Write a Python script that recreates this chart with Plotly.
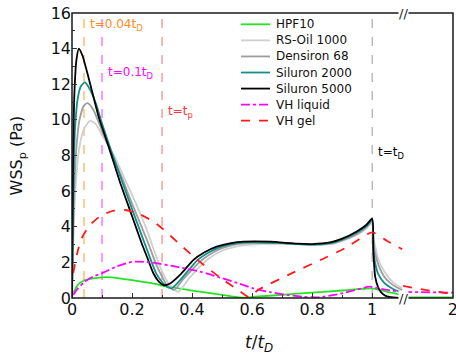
import plotly.graph_objects as go

# ---------------- data ----------------
t_blk = [0, 0.003, 0.008, 0.015, 0.023, 0.035, 0.05, 0.07, 0.09, 0.124, 0.16, 0.2, 0.232, 0.25, 0.271, 0.29, 0.305, 0.325, 0.36, 0.404, 0.44, 0.482, 0.53, 0.571, 0.66, 0.75, 0.8, 0.86, 0.9, 0.95, 0.98, 1.0, 1.004, 1.01, 1.02, 1.03, 1.045, 1.07, 1.1]
v_blk = [0, 7.0, 11.5, 13.4, 14.0, 13.6, 12.7, 11.4, 10.1, 8.4, 6.5, 4.6, 3.07, 2.3, 1.39, 0.9, 0.72, 0.8, 1.3, 2.13, 2.55, 2.88, 3.08, 3.16, 3.16, 3.05, 3.03, 3.12, 3.33, 3.75, 4.1, 4.45, 2.6, 1.2, 0.6, 0.32, 0.12, 0.03, 0.0]

t_teal = [0, 0.004, 0.01, 0.02, 0.03, 0.043, 0.06, 0.08, 0.1, 0.132, 0.17, 0.2, 0.25, 0.28, 0.3, 0.315, 0.332, 0.36, 0.418, 0.46, 0.5, 0.55, 0.6, 0.7, 0.8, 0.86, 0.9, 0.95, 0.98, 1.0, 1.004, 1.01, 1.02, 1.04, 1.06, 1.08, 1.1]
v_teal = [0, 5.5, 9.5, 11.3, 11.9, 12.1, 11.7, 10.9, 9.8, 8.2, 6.4, 5.0, 2.7, 1.4, 0.9, 0.65, 0.54, 1.0, 2.13, 2.6, 2.9, 3.08, 3.14, 3.08, 3.0, 3.08, 3.28, 3.68, 4.02, 4.38, 2.6, 1.95, 1.35, 0.85, 0.6, 0.42, 0.3]

t_dgray = [0, 0.004, 0.012, 0.025, 0.04, 0.052, 0.07, 0.1, 0.135, 0.17, 0.2, 0.25, 0.28, 0.3, 0.315, 0.34, 0.37, 0.433, 0.47, 0.5, 0.55, 0.6, 0.7, 0.8, 0.86, 0.9, 0.95, 0.98, 1.0, 1.004, 1.01, 1.02, 1.04, 1.06, 1.08, 1.1]
v_dgray = [0, 4.0, 7.8, 10.0, 10.8, 10.94, 10.6, 9.4, 8.0, 6.6, 5.3, 3.25, 1.9, 1.2, 0.75, 0.45, 1.05, 2.13, 2.55, 2.8, 3.02, 3.08, 3.07, 3.0, 3.05, 3.24, 3.6, 3.95, 4.3, 3.1, 2.5, 1.9, 1.2, 0.85, 0.62, 0.45]

t_lgray = [0, 0.004, 0.012, 0.025, 0.04, 0.06, 0.08, 0.1, 0.14, 0.17, 0.2, 0.25, 0.277, 0.3, 0.325, 0.354, 0.39, 0.449, 0.5, 0.55, 0.6, 0.7, 0.8, 0.86, 0.9, 0.95, 0.98, 1.0, 1.004, 1.01, 1.02, 1.04, 1.06, 1.08, 1.1]
v_lgray = [0, 3.0, 6.3, 8.5, 9.5, 9.94, 9.75, 9.15, 8.0, 6.9, 5.8, 3.8, 2.5, 1.5, 0.75, 0.35, 1.1, 2.13, 2.65, 2.9, 3.0, 3.05, 2.98, 3.03, 3.2, 3.55, 3.9, 4.25, 3.4, 2.9, 2.2, 1.5, 1.05, 0.75, 0.55]

t_green = [0.005, 0.02, 0.04, 0.07, 0.1, 0.13, 0.2, 0.277, 0.304, 0.4, 0.5, 0.57, 0.61, 0.7, 0.8, 0.9, 1.0, 1.05, 1.1]
v_green = [0.3, 0.75, 0.98, 1.1, 1.16, 1.16, 1.0, 0.79, 0.68, 0.42, 0.18, 0.02, 0.07, 0.18, 0.3, 0.42, 0.54, 0.35, 0.18]

t_mag = [0.004, 0.02, 0.043, 0.07, 0.1, 0.15, 0.2, 0.25, 0.29, 0.35, 0.427, 0.493, 0.55, 0.604, 0.66, 0.716, 0.77, 0.82, 0.9, 0.99, 1.0, 1.05, 1.1]
v_mag = [0.17, 0.55, 0.92, 1.2, 1.39, 1.78, 2.03, 2.02, 1.93, 1.75, 1.48, 1.15, 0.85, 0.54, 0.33, 0.17, 0.07, 0.04, 0.26, 0.64, 0.62, 0.45, 0.35]

t_red = [0.004, 0.02, 0.032, 0.06, 0.1, 0.14, 0.177, 0.22, 0.271, 0.304, 0.36, 0.416, 0.504, 0.55, 0.59, 0.62, 0.74, 0.83, 0.91, 1.0, 1.05, 1.1]
v_red = [1.4, 2.7, 3.35, 4.1, 4.66, 4.9, 4.94, 4.75, 4.29, 3.86, 3.0, 2.17, 1.01, 0.5, 0.06, 0.45, 1.45, 2.15, 2.8, 3.68, 3.2, 2.74]

# values after the axis break (t from 1.1 to 2)
t_tail = [1.1, 1.5, 2.0]
v_green_tail = [0.03, 0.03, 0.03]
v_mag_tail = [0.34, 0.32, 0.3]
v_red_tail = [0.68, 0.45, 0.22]

names = ["HPF10", "RS-Oil 1000", "Densiron 68", "Siluron 2000", "Siluron 5000", "VH liquid", "VH gel"]
colors = ["#22E522", "#CFCFCF", "#9E9E9E", "#148F8F", "#000000", "#FF00FF", "#FF1A1A"]
dashes = ["solid", "solid", "solid", "solid", "solid", "dashdot", "dash"]

vline_t = [0.04, 0.1, 0.3, 1.0]
vline_col = ["#FF9A2E", "#FF33FF", "#F07070", "#999999"]
vline_lbl = ["t=0.04t<sub>D</sub>", "t=0.1t<sub>D</sub>", "t=t<sub>p</sub>", "t=t<sub>D</sub>"]
vline_lbl_col = ["#FF8C1A", "#FF00FF", "#FF3333", "#000000"]
vline_lbl_y = [15.3, 12.64, 10.45, 8.15]

x_ticks = [0, 0.2, 0.4, 0.6, 0.8, 1]
x_ticktext = ["0", "0.2", "0.4", "0.6", "0.8", "1"]
y_ticks = [0, 2, 4, 6, 8, 10, 12, 14, 16]

FONT = "DejaVu Sans"
brk = 0.869

# plot-area pixel frame (for converting legend placement to paper units)
L, R, T, B = 72, 453, 13, 298
def px(x):
    return (x - L) / (R - L)
def py(y):
    return (B - y) / (B - T)

fig = go.Figure()

series = [
    (t_green, v_green),
    (t_lgray, v_lgray),
    (t_dgray, v_dgray),
    (t_teal, v_teal),
    (t_blk, v_blk),
    (t_mag, v_mag),
    (t_red, v_red),
]
for (tx, vy), nm, c, dash in zip(series, names, colors, dashes):
    fig.add_trace(go.Scatter(x=tx, y=vy, mode="lines", name=nm, showlegend=False,
                             line=dict(color=c, width=1.8, dash=dash, shape="spline", smoothing=0.6),
                             xaxis="x", yaxis="y"))

# right segment after break
for vy, c, dash in [(v_green_tail, colors[0], "solid"), (v_mag_tail, colors[5], "dashdot"), (v_red_tail, colors[6], "dash")]:
    fig.add_trace(go.Scatter(x=t_tail, y=vy, mode="lines", showlegend=False,
                             line=dict(color=c, width=1.8, dash=dash), xaxis="x2", yaxis="y"))

shapes = []
annots = []
for tv, c, lbl, lc, ly in zip(vline_t, vline_col, vline_lbl, vline_lbl_col, vline_lbl_y):
    shapes.append(dict(type="line", xref="x", yref="y", x0=tv, x1=tv, y0=0, y1=16, opacity=1,
                       line=dict(color=c, width=1, dash="dash"), layer="below"))
    annots.append(dict(x=tv, y=ly, xref="x", yref="y", text=lbl, showarrow=False,
                       xanchor="left", xshift=4, font=dict(family=FONT, size=12, color=lc)))

# legend (compact spacing like the reference)
for i, (nm, c, dash) in enumerate(zip(names, colors, dashes)):
    yy = py(24.3 + 16.07 * i)
    shapes.append(dict(type="line", xref="paper", yref="paper", x0=px(241), x1=px(270), y0=yy, y1=yy,
                       opacity=1, line=dict(color=c, width=1.8, dash=dash)))
    annots.append(dict(x=px(274), y=yy, xref="paper", yref="paper", text=nm, showarrow=False,
                       xanchor="left", yanchor="middle", font=dict(family=FONT, size=12, color="#111111")))

# frame
shapes.append(dict(type="rect", xref="paper", yref="paper", x0=0, x1=1, y0=0, y1=1, opacity=1,
                   fillcolor="rgba(0,0,0,0)", line=dict(color="#1a1a1a", width=1.5)))
# break marks
for yy in [0, 1]:
    annots.append(dict(x=brk, y=yy, xref="paper", yref="paper", text="//", showarrow=False,
                       xanchor="center", yanchor="middle", bgcolor="white",
                       font=dict(family=FONT, size=13, color="#222222"), borderpad=0))

# axis titles
annots.append(dict(x=-0.142, y=0.5, xref="paper", yref="paper", text="WSS<sub>p</sub> (Pa)",
                   textangle=-90, showarrow=False, xanchor="center", yanchor="middle",
                   font=dict(family=FONT, size=16, color="#111111")))
annots.append(dict(x=0.49, y=-0.16, xref="paper", yref="paper",
                   text="<i>t</i>/<i>t</i><sub><i>D</i></sub>", showarrow=False,
                   xanchor="center", yanchor="middle",
                   font=dict(family=FONT, size=17, color="#111111")))

fig.update_layout(
    width=456, height=356, template="none",
    margin=dict(l=72, r=3, t=13, b=58, autoexpand=False),
    paper_bgcolor="white", plot_bgcolor="white",
    font=dict(family=FONT, color="#111111"),
    xaxis=dict(domain=[0, brk], range=[0, 1.103], tickvals=x_ticks, ticktext=x_ticktext,
               ticks="inside", ticklen=5, tickwidth=1, tickcolor="#333",
               minor=dict(dtick=0.1, tick0=0, ticks="inside", ticklen=3, tickcolor="#333", showgrid=False),
               showline=False, showgrid=False, zeroline=False, automargin=False,
               tickfont=dict(family=FONT, size=16, color="#111111"), anchor="y"),
    xaxis2=dict(domain=[brk, 1], range=[1.1, 2.003], tickvals=[2], ticktext=["2"],
                ticks="", showline=False, showgrid=False, zeroline=False, automargin=False,
                ticklabeloverflow="allow",
                tickfont=dict(family=FONT, size=16, color="#111111"), anchor="y"),
    yaxis=dict(range=[0, 16], tickvals=y_ticks, ticks="inside", ticklen=5, tickwidth=1, tickcolor="#333",
               minor=dict(dtick=1, tick0=0, ticks="inside", ticklen=3, tickcolor="#333", showgrid=False),
               showline=False, showgrid=False, zeroline=False, automargin=False,
               tickfont=dict(family=FONT, size=16, color="#111111"), anchor="x"),
    shapes=shapes, annotations=annots, showlegend=False,
)

fig.write_html("out.html")
